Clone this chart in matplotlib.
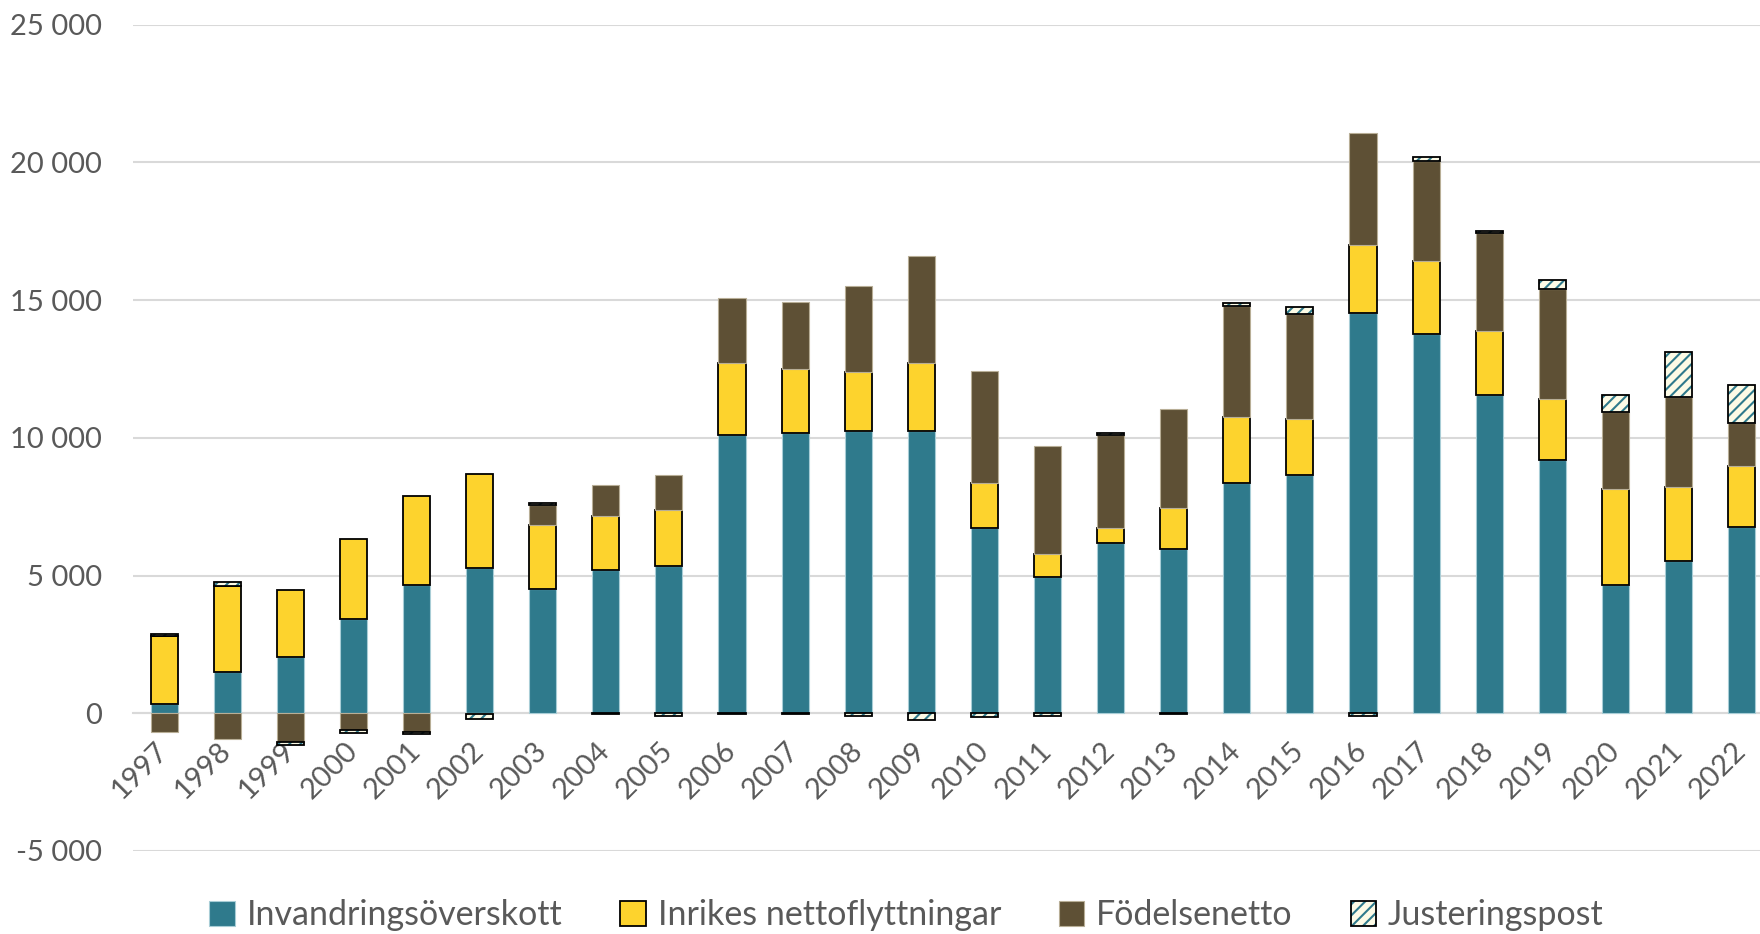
import numpy as np
import matplotlib
matplotlib.use("Agg")
import matplotlib.pyplot as plt
from matplotlib.patches import Patch
from matplotlib.ticker import FuncFormatter, MultipleLocator

plt.rcParams['font.family'] = ['Lato', 'DejaVu Sans']
plt.rcParams['hatch.linewidth'] = 1.5

years = [str(y) for y in range(1997, 2023)]

invandring = [340, 1515, 2040, 3430, 4670, 5290, 4510, 5215, 5340, 10105,
              10180, 10230, 10230, 6720, 4960, 6175, 5970, 8370, 8665, 14535,
              13770, 11560, 9185, 4645, 5545, 6780]
inrikes = [2450, 3105, 2425, 2880, 3215, 3410, 2335, 1940, 2025, 2595,
           2330, 2155, 2470, 1640, 830, 545, 1465, 2375, 2015, 2450,
           2645, 2330, 2220, 3495, 2680, 2195]
fodelse = [-680, -940, -1050, -620, -680, -20, 700, 1130, 1285, 2390,
           2415, 3130, 3885, 4050, 3905, 3385, 3595, 4035, 3810, 4065,
           3625, 3545, 3980, 2780, 3265, 1565]
justering = [80, 130, -90, -80, -70, -180, 90, -40, -110, -30,
             -30, -90, -240, -130, -90, 85, -20, 110, 265, -100,
             150, 85, 330, 620, 1635, 1385]

labels = ['Invandringsöverskott', 'Inrikes nettoflyttningar', 'Födelsenetto', 'Justeringspost']

TEAL = '#2F7A8C'
YELLOW = '#FDD32D'
BROWN = '#5E5035'
CREAM = '#FDFBE6'
GREY = '#595959'

fig = plt.figure(figsize=(17.6, 9.34), dpi=100)
ax = fig.add_axes([0.0753, 0.0889, 0.9322, 0.8847])

x = np.arange(len(years))
w = 0.43
pos = np.zeros(len(years))
neg = np.zeros(len(years))

def stack(vals):
    global pos, neg
    v = np.array(vals, dtype=float)
    bottom = np.where(v >= 0, pos, neg)
    pos = pos + np.clip(v, 0, None)
    neg = neg + np.clip(v, None, 0)
    return v, bottom

v, b = stack(invandring)
ax.bar(x, v, w, bottom=b, color=TEAL, edgecolor='#A8CDD6', linewidth=0.8, zorder=3)
v, b = stack(inrikes)
ax.bar(x, v, w, bottom=b, color=YELLOW, edgecolor='black', linewidth=1.3, zorder=3)
v, b = stack(fodelse)
ax.bar(x, v, w, bottom=b, color=BROWN, edgecolor='#B8AE96', linewidth=0.8, zorder=3)
v, b = stack(justering)
ax.bar(x, v, w, bottom=b, color=CREAM, edgecolor=TEAL, hatch='///', linewidth=0, zorder=3)
ax.bar(x, v, w, bottom=b, fill=False, edgecolor='black', linewidth=1.3, zorder=4)

ax.set_xlim(-0.5, len(years) - 0.5)
ax.set_ylim(-5000, 25000)
ax.yaxis.set_major_locator(MultipleLocator(5000))
ax.yaxis.set_major_formatter(FuncFormatter(lambda val, p: f"{val:,.0f}".replace(',', ' ')))
ax.grid(axis='y', color='#D9D9D9', linewidth=1.5, zorder=0)
ax.set_axisbelow(True)
for s in ['top', 'right', 'left']:
    ax.spines[s].set_visible(False)
ax.spines['bottom'].set_position(('data', 0))
ax.spines['bottom'].set_color('#D9D9D9')
ax.spines['bottom'].set_linewidth(1.5)
ax.spines['bottom'].set_zorder(1)

ax.set_xticks(x)
ax.set_xticklabels(years, rotation=45, ha='right', va='center', rotation_mode='anchor')
ax.tick_params(axis='x', length=0, pad=24, labelsize=21, labelcolor=GREY)
ax.tick_params(axis='y', length=0, pad=22, labelsize=21, labelcolor=GREY)

handles = [
    Patch(facecolor=TEAL, edgecolor='#A8CDD6', linewidth=0.8),
    Patch(facecolor=YELLOW, edgecolor='black', linewidth=1.3),
    Patch(facecolor=BROWN, edgecolor='#B8AE96', linewidth=0.8),
    (Patch(facecolor=CREAM, edgecolor=TEAL, hatch='///', linewidth=0),
     Patch(fill=False, edgecolor='black', linewidth=1.3)),
]
fig.legend(handles, labels, loc='center', bbox_to_anchor=(0.515, 0.02), ncol=4,
           frameon=False, fontsize=24.5, labelcolor=GREY, handlelength=0.75,
           handleheight=0.75, handletextpad=0.35, columnspacing=1.7)

fig.savefig('out.png', dpi=100)
